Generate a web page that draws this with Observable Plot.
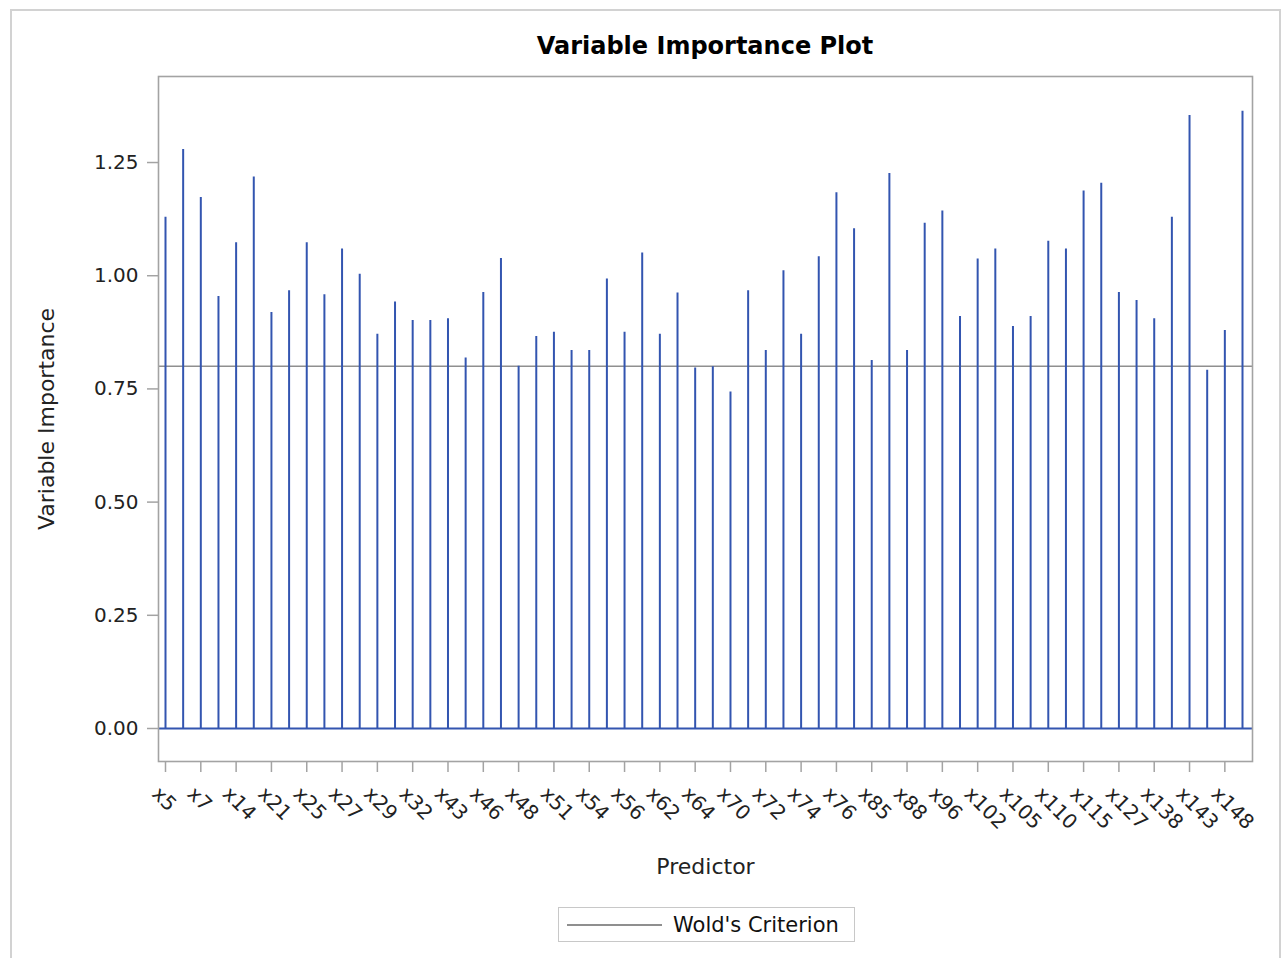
<!DOCTYPE html>
<html>
<head>
<meta charset="utf-8">
<script src="https://cdn.jsdelivr.net/npm/d3@7"></script>
<script src="https://cdn.jsdelivr.net/npm/@observablehq/plot@0.6"></script>
<style>
  html, body { margin: 0; padding: 0; background: #fff; overflow: hidden; }
  body { width: 1281px; height: 958px; position: relative; font-family: "DejaVu Sans", sans-serif; }
  #outer { position: absolute; left: 10px; top: 9px; width: 1271px; height: 970px; box-sizing: border-box; border: 2px solid #d2d2d2; }
  #title { position: absolute; left: 405px; width: 600px; top: 31px; text-align: center; font-weight: bold; font-size: 24px; color: #000; line-height: 30px; }
  #chart { position: absolute; left: 0; top: 0; }
  #legend { position: absolute; left: 558px; top: 907px; width: 297px; height: 35px; box-sizing: border-box; border: 1px solid #c8c8c8; background: #fff; }
  #legend .swatch { position: absolute; left: 8px; top: 16px; width: 95px; height: 0; border-top: 2px solid #8f8f8f; }
  #legend .lbl { position: absolute; left: 114px; top: 3px; font-size: 21px; line-height: 28px; color: #111; white-space: nowrap; }
</style>
</head>
<body>
<div id="outer"></div>
<div id="chart"></div>
<div id="title">Variable Importance Plot</div>
<div id="legend"><div class="swatch"></div><div class="lbl">Wold's Criterion</div></div>
<script>
const predictors = ["x5","x6","x7","x13","x14","x19","x21","x23","x25","x26","x27","x28","x29","x31","x32","x38","x43","x44","x46","x47","x48","x49","x51","x53","x54","x55","x56","x59","x62","x63","x64","x67","x70","x71","x72","x73","x74","x75","x76","x81","x85","x87","x88","x91","x96","x99","x102","x104","x105","x108","x110","x112","x115","x121","x127","x133","x138","x140","x143","x146","x148","x150"];
const importance = [
  1.129, 1.279, 1.173, 0.954, 1.073, 1.218, 0.919, 0.967, 1.073, 0.958,
  1.059, 1.003, 0.871, 0.942, 0.901, 0.901, 0.905, 0.818, 0.963, 1.038,
  0.800, 0.866, 0.875, 0.835, 0.835, 0.993, 0.875, 1.050, 0.871, 0.962,
  0.796, 0.799, 0.743, 0.967, 0.835, 1.011, 0.871, 1.042, 1.183, 1.104,
  0.813, 1.226, 0.835, 1.116, 1.143, 0.910, 1.037, 1.059, 0.888, 0.910,
  1.076, 1.059, 1.187, 1.204, 0.963, 0.945, 0.905, 1.129, 1.354, 0.791,
  0.879, 1.363
];
const tickLabels = ["x5","x7","x14","x21","x25","x27","x29","x32","x43","x46","x48","x51","x54","x56","x62","x64","x70","x72","x74","x76","x85","x88","x96","x102","x105","x110","x115","x127","x138","x143","x148"];
const yTicks = [0, 0.25, 0.5, 0.75, 1.0, 1.25];
const woldCriterion = 0.8;

const data = predictors.map((p, i) => ({predictor: p, importance: importance[i]}));

const needle = "#3355b0";
const axisGrey = "#a3a3a3";
const font = "DejaVu Sans";

const chart = Plot.plot({
  width: 1281,
  height: 901,
  marginLeft: 158,
  marginRight: 29,
  marginTop: 76,
  marginBottom: 140,
  style: {fontFamily: font, background: "transparent", color: "#222"},
  x: {type: "point", domain: predictors, range: [165, 1242], padding: 0, axis: null},
  y: {domain: [-0.0729, 1.44], axis: null},
  marks: [
    Plot.ruleY([woldCriterion], {stroke: "#8f8f8f", strokeWidth: 1.6}),
    Plot.ruleX(data, {x: "predictor", y1: 0, y2: "importance", stroke: needle, strokeWidth: 2}),
    Plot.ruleY([0], {stroke: needle, strokeWidth: 2}),
    Plot.frame({stroke: axisGrey, strokeWidth: 1.6}),
    Plot.axisY({
      ticks: yTicks, tickFormat: d3.format(".2f"), tickSize: 11, tickPadding: 9,
      fontSize: 20, stroke: axisGrey, strokeWidth: 1.5, fill: "#222", label: null
    }),
    Plot.axisX({
      ticks: tickLabels, tickSize: 11, text: null, stroke: axisGrey, strokeWidth: 1.5, label: null
    }),
    Plot.axisX({
      ticks: tickLabels, tickSize: 0, tickPadding: 29, tickRotate: 45,
      textAnchor: "start", fontSize: 20, fill: "#222", label: null, dx: -10
    }),
    Plot.text(["Variable Importance"], {frameAnchor: "left", dx: -112, rotate: -90, fontSize: 22, fill: "#222", textAnchor: "middle", lineAnchor: "middle"}),
    Plot.text(["Predictor"], {frameAnchor: "bottom", dy: 105, fontSize: 22, fill: "#222", textAnchor: "middle", lineAnchor: "middle"})
  ]
});
document.getElementById("chart").appendChild(chart);
</script>
</body>
</html>
